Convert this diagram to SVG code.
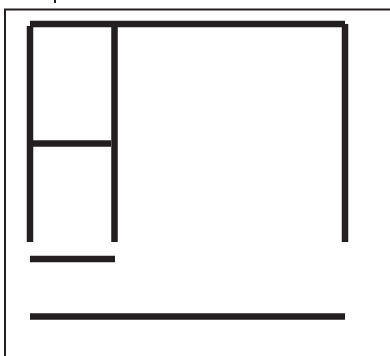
<svg xmlns="http://www.w3.org/2000/svg" width="390" height="356" viewBox="0 0 390 356">
<style>
.frame{stroke:#231f20;stroke-width:2;fill:none}
.bar{stroke:#231f20;stroke-width:6.5;fill:none;stroke-linecap:butt}
</style>
<rect width="390" height="356" fill="#ffffff"/>
<g id="frame">
<path class="frame" d="M5,356 V9.5 H390"/>
<rect x="54" y="0" width="2" height="3" fill="#231f20"/>
</g>
<g id="structure">
<line class="bar" x1="30" y1="24" x2="345" y2="24"/>
<line class="bar" x1="30" y1="26" x2="30" y2="242"/>
<line class="bar" x1="114.5" y1="24" x2="114.5" y2="242"/>
<line class="bar" x1="345" y1="24" x2="345" y2="242"/>
<line class="bar" x1="33" y1="143.5" x2="111" y2="143.5"/>
</g>
<g id="lines">
<line class="bar" x1="30" y1="259" x2="115" y2="259"/>
<line class="bar" x1="30" y1="316.5" x2="345" y2="316.5"/>
</g>
</svg>
